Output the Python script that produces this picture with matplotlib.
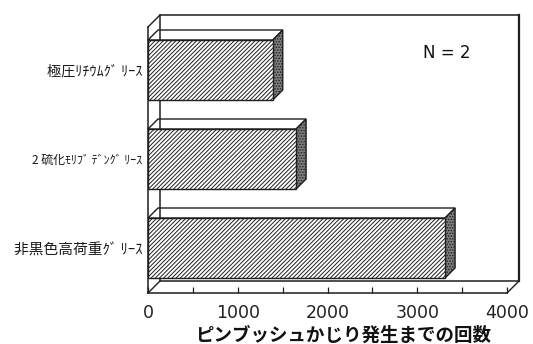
import matplotlib
matplotlib.use("Agg")
import matplotlib.pyplot as plt
from matplotlib.patches import Polygon, Rectangle
from matplotlib.ticker import MultipleLocator

plt.rcParams["hatch.linewidth"] = 0.7

# data (bottom to top)
categories = ["非黒色高荷重ｸﾞ ﾘｰｽ", "2 硫化ﾓﾘﾌﾞ ﾃﾞﾝｸﾞ ﾘｰｽ", "極圧ﾘﾁｳﾑｸﾞ ﾘｰｽ"]
counts = [3310, 1650, 1390]
x_ticks = [0, 1000, 2000, 3000, 4000]
x_label = "ピンブッシュかじり発生までの回数"
note = "N = 2"

W, H = 533, 344
fig = plt.figure(figsize=(W / 100, H / 100), dpi=100)
fig.patch.set_facecolor("white")

# front plane of the 3-D box, in pixels
left_px, right_px, top_px, bottom_px = 148, 507, 27, 293
ax = fig.add_axes([left_px / W, (H - bottom_px) / H,
                   (right_px - left_px) / W, (bottom_px - top_px) / H])
ax.set_facecolor("none")

xmin, xmax = 0, 4000
step_px = 89.0
y0 = -45 / step_px
y1 = y0 + (bottom_px - top_px) / step_px
ax.set_xlim(xmin, xmax)
ax.set_ylim(y0, y1)

ax_w = right_px - left_px
ax_h = bottom_px - top_px


def depth(px):
    """Convert an oblique pixel depth into data offsets (x, y)."""
    return px * (xmax - xmin) / ax_w, px * (y1 - y0) / ax_h


LC = "#1e1e1e"
box_dx, box_dy = depth(12)
bar_dx, bar_dy = depth(10)

# back wall and receding edges of the box
ax.add_patch(Rectangle((xmin + box_dx, y0 + box_dy), xmax - xmin, y1 - y0,
                       fill=False, ec=LC, lw=1.1, zorder=1, clip_on=False))
ax.plot([xmax + box_dx, xmax + box_dx], [y0 + box_dy, y1 + box_dy],
        color=LC, lw=1.6, zorder=1, clip_on=False)
for (xa, ya) in [(xmin, y1), (xmin, y0), (xmax, y0)]:
    ax.plot([xa, xa + box_dx], [ya, ya + box_dy], color=LC, lw=1.0,
            zorder=1, clip_on=False)

# bars with top and side faces
half = 30 / step_px
for i, v in enumerate(counts):
    lo, hi = i - half, i + half
    top = Polygon([(0, hi), (v, hi), (v + bar_dx, hi + bar_dy), (bar_dx, hi + bar_dy)],
                  closed=True, fc="none", ec=LC, lw=1.0, zorder=2, clip_on=False)
    side = Polygon([(v, lo), (v + bar_dx, lo + bar_dy), (v + bar_dx, hi + bar_dy), (v, hi)],
                   closed=True, fc="#7c7c7c", ec=LC, lw=1.0, hatch="......",
                   zorder=3, clip_on=False)
    front = Rectangle((0, lo), v, hi - lo, fc="white", ec=LC, lw=1.0,
                      hatch="////////", zorder=4, clip_on=False)
    ax.add_patch(top)
    ax.add_patch(side)
    ax.add_patch(front)

# axes lines and ticks
for s in ["top", "right"]:
    ax.spines[s].set_visible(False)
for s in ["left", "bottom"]:
    ax.spines[s].set_color(LC)
    ax.spines[s].set_linewidth(1.1)
    ax.spines[s].set_zorder(5)

ax.set_xticks(x_ticks)
ax.set_xticklabels([str(t) for t in x_ticks], family="DejaVu Sans",
                   fontsize=12.5, color="#222")
ax.xaxis.set_minor_locator(MultipleLocator(500))
ax.tick_params(axis="x", which="both", direction="in", length=4, width=0.9,
               color=LC, pad=8)

ax.set_yticks(range(len(categories)))
ax.set_yticklabels(categories, family=["Noto Sans CJK JP", "DejaVu Sans"],
                   color="#1a1a1a")
label_sizes = [10.6, 8.6, 10.2]
for lab, fs in zip(ax.get_yticklabels(), label_sizes):
    lab.set_fontsize(fs)
ax.tick_params(axis="y", length=0, pad=4)

fig.text(447 / W, 1 - 53 / H, note, ha="center", va="center",
         fontsize=12, family="DejaVu Sans", color="#111")
fig.text(343.5 / W, 1 - 335 / H, x_label, ha="center", va="center",
         fontsize=13.3, fontweight="bold",
         family=["Noto Sans CJK JP", "DejaVu Sans"], color="#111")

fig.savefig("out.png", dpi=100, facecolor="white")
